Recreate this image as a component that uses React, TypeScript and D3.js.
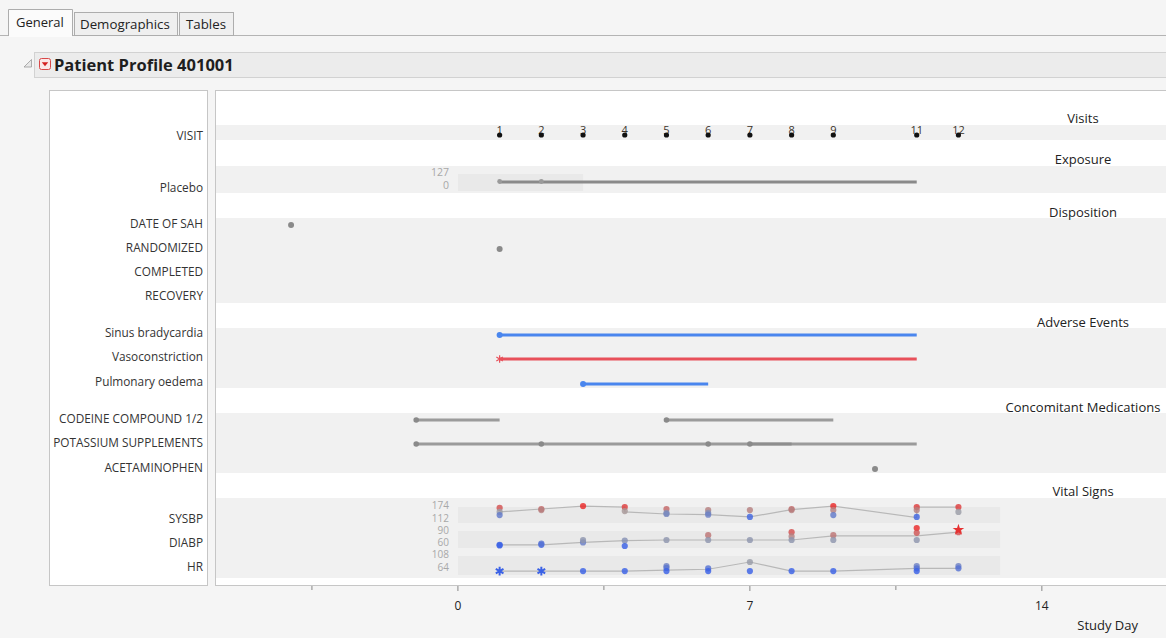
import React from 'react';
import * as d3 from 'd3';

const W = 1166;
const H = 638;

// ---- Visits ----
const visitDays = [1, 2, 3, 4, 5, 6, 7, 8, 9, 11, 12];
const visitNumbers = ['1', '2', '3', '4', '5', '6', '7', '8', '9', '11', '12'];

// ---- Exposure ----
const exposureTreatment = 'Placebo';
const exposureStartDay = 1;
const exposureEndDay = 11;
const exposureDoseDays = [1, 2];
const exposureRangeLabels = ['127', '0'];
const exposurePanelDays = [0, 3];

// ---- Disposition ----
const dispositionEvents = ['DATE OF SAH', 'RANDOMIZED', 'COMPLETED', 'RECOVERY'];
const dispositionDays: (number | null)[] = [-4, 1, null, null];

// ---- Adverse events ----
const aeTerms = ['Sinus bradycardia', 'Vasoconstriction', 'Pulmonary oedema'];
const aeStartDays = [1, 1, 3];
const aeEndDays = [11, 11, 6];
const aeSeverity = ['MILD', 'SEVERE', 'MILD'];

// ---- Concomitant medications ----
const cmNames = ['CODEINE COMPOUND 1/2', 'POTASSIUM SUPPLEMENTS', 'ACETAMINOPHEN'];
const cmIntervals: [number, number][][] = [
  [[-1, 1], [5, 9]],
  [[-1, 2], [2, 6], [6, 11], [7, 8]],
  [[10, 10]],
];

// ---- Vital signs ----
const vitalNames = ['SYSBP', 'DIABP', 'HR'];
const vitalRangeLabels = [['174', '112'], ['90', '60'], ['108', '64']];
const vitalDomains: [number, number][] = [[112, 174], [60, 90], [64, 108]];
const vitalColorStops: [number, number, number][] = [[115, 143, 168], [61, 72, 88], [66, 88, 108]];
const vitalPanelDays = [0, 13];
const vitalDays = [1, 2, 3, 4, 5, 6, 7, 8, 9, 11, 12];

const sysbpTrendDays = [1, 2, 3, 4, 4, 5, 6, 7, 8, 9, 11, 11, 12];
const sysbpTrend = [141, 155, 169, 164, 141, 131, 128, 117, 152, 169, 114, 164, 164];
const sysbpReadings = [
  [160, 141, 126], [155, 150], [169], [164, 145], [155, 136, 131], [150, 136, 128],
  [150, 117], [155, 150], [169, 150, 126], [164, 150, 117], [164, 141],
];

const diabpTrendDays = [1, 2, 3, 4, 5, 6, 7, 8, 9, 11, 12];
const diabpTrend = [62, 62, 66, 69, 70, 70, 70, 70, 77, 77, 83];
const diabpReadings = [
  [62, 61], [62, 64], [66, 70], [69, 60], [70], [78, 70],
  [70], [83, 76, 70], [78, 70], [90, 82, 70], [83],
];
const diabpFlagDays = [12];
const diabpFlagValues = [87];

const hrTrendDays = [1, 2, 3, 4, 5, 6, 7, 8, 9, 11, 12];
const hrTrend = [66, 66, 66, 66, 68, 70, 86, 66, 66, 72, 72];
const hrReadings = [
  [], [], [66], [66], [77, 73, 66], [72, 66],
  [86, 66], [66], [66], [77, 72, 66], [77, 72],
];
const hrFlagDays = [1, 2];
const hrFlagValues = [66, 66];

const vitalTrendDays = [sysbpTrendDays, diabpTrendDays, hrTrendDays];
const vitalTrends = [sysbpTrend, diabpTrend, hrTrend];
const vitalReadings = [sysbpReadings, diabpReadings, hrReadings];
const vitalFlagDays = [[], diabpFlagDays, hrFlagDays];
const vitalFlagValues = [[], diabpFlagValues, hrFlagValues];

// ---- Axis ----
const majorTicks = [0, 7, 14];
const minorTicks = [-3.5, 3.5, 10.5];

const FONT = "'Open Sans', 'Noto Sans', sans-serif";
const BAND = '#f1f1f1';
const INNER = '#e9e9e9';
const GREY_MARK = '#8a8a8a';
const AE_COLORS: Record<string, string> = { MILD: '#4a86ee', SEVERE: '#e8505a' };

// layout of the plot panel
const PLOT_LEFT = 216;
const PLOT_TOP = 90;
const PLOT_BOTTOM = 585;
const HEADER_X = 1083;

const sections = [
  { title: 'Visits', titleY: 118, band: [125, 140] },
  { title: 'Exposure', titleY: 159, band: [166, 193] },
  { title: 'Disposition', titleY: 212, band: [218, 303] },
  { title: 'Adverse Events', titleY: 322, band: [328, 388] },
  { title: 'Concomitant Medications', titleY: 407, band: [413, 473] },
  { title: 'Vital Signs', titleY: 491, band: [498, 578] },
];

const visitY = 135;
const exposureLabelY = 187;
const exposureLineY = 182;
const exposurePanel = [174, 191];
const exposureRangeY = [172, 185];
const dispositionY = [225, 249, 273, 297];
const aeY = [335, 359, 384];
const cmY = [420, 444, 469];
const vitalLabelY = [518, 542, 566];
const vitalRangeY = [[504.5, 517.5], [529.5, 542], [554, 566.5]];
const vitalPanel = [[507, 523], [531, 548], [556, 575]];
const vitalPixelRange: [number, number][] = [[518, 505], [546, 528], [572, 552]];

function Label({ x, y, text, anchor = 'end', size = 11.8, color = '#333', weight = 400 }: any) {
  return (
    <text x={x} y={y} textAnchor={anchor} dominantBaseline="central" fontSize={size} fill={color} fontWeight={weight}>
      {text}
    </text>
  );
}

export default function App() {
  const x = d3.scaleLinear().domain([-5.8, 17]).range([PLOT_LEFT, PLOT_LEFT + 22.8 * 41.71]);

  const star = d3.symbol().type(d3.symbolStar).size(42)() as string;
  const asterisk = d3.symbol().type(d3.symbolAsterisk).size(40)() as string;
  const bigAsterisk = d3.symbol().type(d3.symbolAsterisk).size(55)() as string;

  const labelRight = 203;

  return (
    <div style={{ position: 'absolute', left: 0, top: 0, width: W, height: H }}>
      <svg width={W} height={H} style={{ display: 'block' }} fontFamily={FONT}>
        <rect x={0} y={0} width={W} height={H} fill="#f5f5f5" />

        {/* tabs */}
        <line x1={0} x2={W} y1={35.5} y2={35.5} stroke="#b4b4b4" />
        <rect x={74.5} y={12.5} width={103} height={23} fill="#efefef" stroke="#adadad" />
        <rect x={179.5} y={12.5} width={54} height={23} fill="#efefef" stroke="#adadad" />
        <path d="M8.5,36 V9.5 H72.5 V36" fill="#fbfbfb" stroke="#adadad" />
        <rect x={9} y={34} width={63} height={3} fill="#fbfbfb" />
        <Label x={16} y={22} text="General" anchor="start" size={13} color="#222" />
        <Label x={80} y={23.5} text="Demographics" anchor="start" size={13.3} color="#222" />
        <Label x={186} y={23.5} text="Tables" anchor="start" size={13.3} color="#222" />

        {/* outline header */}
        <rect x={34.5} y={52.5} width={1140} height={25} fill="#ececec" stroke="#d2d2d2" />
        <path d="M24,67 L31.5,67 L31.5,59.5 Z" fill="#e8e8e8" stroke="#9a9a9a" strokeWidth={0.8} />
        <rect x={39.5} y={58.5} width={11} height={11} rx={2} fill="#fbe9e9" stroke="#d84848" />
        <path d="M41.8,62.3 L48.2,62.3 L45,66.2 Z" fill="#d42020" />
        <Label x={54} y={64.5} text="Patient Profile 401001" anchor="start" size={16.5} color="#1e1e1e" weight={700} />

        {/* label panel */}
        <rect x={49.5} y={PLOT_TOP + 0.5} width={158} height={PLOT_BOTTOM - PLOT_TOP} fill="#fff" stroke="#c6c6c6" />

        {/* plot panel */}
        <rect x={PLOT_LEFT - 0.5} y={PLOT_TOP + 0.5} width={W} height={PLOT_BOTTOM - PLOT_TOP} fill="#fff" stroke="#c6c6c6" />

        {sections.map((s) => (
          <g key={s.title}>
            <rect x={PLOT_LEFT} y={s.band[0]} width={W - PLOT_LEFT} height={s.band[1] - s.band[0]} fill={BAND} />
            <Label x={HEADER_X} y={s.titleY} text={s.title} anchor="middle" size={13} color="#222" />
          </g>
        ))}

        {/* visits */}
        <Label x={labelRight} y={visitY} text="VISIT" />
        {visitDays.map((d, i) => (
          <g key={'v' + i}>
            <Label x={x(d)} y={visitY - 6} text={visitNumbers[i]} anchor="middle" size={11} color="#3b342c" />
            <circle cx={x(d)} cy={visitY} r={2.6} fill="#111" />
          </g>
        ))}

        {/* exposure */}
        <Label x={labelRight} y={exposureLabelY} text={exposureTreatment} />
        <rect
          x={x(exposurePanelDays[0])}
          y={exposurePanel[0]}
          width={x(exposurePanelDays[1]) - x(exposurePanelDays[0])}
          height={exposurePanel[1] - exposurePanel[0]}
          fill={INNER}
        />
        {exposureRangeLabels.map((t, i) => (
          <Label key={t} x={449} y={exposureRangeY[i]} text={t} color="#a8a8a8" size={10.5} />
        ))}
        <line x1={x(exposureStartDay)} x2={x(exposureEndDay)} y1={exposureLineY} y2={exposureLineY} stroke={GREY_MARK} strokeWidth={3} />
        {exposureDoseDays.map((d) => (
          <circle key={'e' + d} cx={x(d)} cy={exposureLineY - 0.5} r={2.4} fill="#9a9a9a" />
        ))}

        {/* disposition */}
        {dispositionEvents.map((ev, i) => (
          <g key={ev}>
            <Label x={labelRight} y={dispositionY[i] - 2} text={ev} />
            {dispositionDays[i] !== null && (
              <circle cx={x(dispositionDays[i] as number)} cy={dispositionY[i]} r={3} fill={GREY_MARK} />
            )}
          </g>
        ))}

        {/* adverse events */}
        {aeTerms.map((t, i) => {
          const c = AE_COLORS[aeSeverity[i]];
          return (
            <g key={t}>
              <Label x={labelRight} y={aeY[i] - 3} text={t} />
              <line x1={x(aeStartDays[i])} x2={x(aeEndDays[i])} y1={aeY[i]} y2={aeY[i]} stroke={c} strokeWidth={3} />
              {aeSeverity[i] === 'SEVERE' ? (
                <path d={asterisk} transform={`translate(${x(aeStartDays[i])},${aeY[i]})`} stroke={c} strokeWidth={1.2} fill="none" />
              ) : (
                <circle cx={x(aeStartDays[i])} cy={aeY[i]} r={3} fill={c} />
              )}
            </g>
          );
        })}

        {/* concomitant medications */}
        {cmNames.map((n, i) => (
          <g key={n}>
            <Label x={labelRight} y={cmY[i] - 2} text={n} />
            {cmIntervals[i].map(([a, b], j) =>
              a === b ? (
                <circle key={j} cx={x(a)} cy={cmY[i]} r={3} fill={GREY_MARK} />
              ) : (
                <g key={j}>
                  <line x1={x(a)} x2={x(b)} y1={cmY[i]} y2={cmY[i]} stroke="#8c8c8c" strokeOpacity={0.85} strokeWidth={3} />
                  <circle cx={x(a)} cy={cmY[i]} r={2.8} fill={GREY_MARK} />
                </g>
              )
            )}
          </g>
        ))}

        {/* vital signs */}
        {vitalNames.map((name, k) => {
          const y = d3.scaleLinear().domain(vitalDomains[k]).range(vitalPixelRange[k]);
          const color = d3
            .scaleLinear<string>()
            .domain(vitalColorStops[k])
            .range(['#3b62e6', '#a2a2a2', '#ea2a2a'])
            .clamp(true);
          const trendPts = vitalTrendDays[k].map((d, i) => [x(d), y(vitalTrends[k][i])] as [number, number]);
          const line = d3.line()(trendPts) as string;
          return (
            <g key={name}>
              <Label x={labelRight} y={vitalLabelY[k]} text={name} />
              <rect
                x={x(vitalPanelDays[0])}
                y={vitalPanel[k][0]}
                width={x(vitalPanelDays[1]) - x(vitalPanelDays[0])}
                height={vitalPanel[k][1] - vitalPanel[k][0]}
                fill={INNER}
              />
              {vitalRangeLabels[k].map((t, i) => (
                <Label key={t} x={449} y={vitalRangeY[k][i]} text={t} color="#a8a8a8" size={10} />
              ))}
              <path d={line} fill="none" stroke="#b8b8b8" strokeWidth={1.2} />
              {vitalReadings[k].map((vals, i) =>
                vals.map((v, j) => (
                  <circle key={`${i}-${j}`} cx={x(vitalDays[i])} cy={y(v)} r={3.1} fill={color(v)} fillOpacity={0.82} />
                ))
              )}
              {vitalFlagDays[k].map((d, i) =>
                k === 2 ? (
                  <path
                    key={'f' + i}
                    d={bigAsterisk}
                    transform={`translate(${x(d)},${y(vitalFlagValues[k][i])})`}
                    stroke={color(vitalFlagValues[k][i])}
                    strokeWidth={2}
                    fill="none"
                  />
                ) : (
                  <path key={'f' + i} d={star} transform={`translate(${x(d)},${y(vitalFlagValues[k][i])})`} fill={color(vitalFlagValues[k][i])} />
                )
              )}
            </g>
          );
        })}

        {/* x axis */}
        {minorTicks.map((t) => (
          <line key={'m' + t} x1={x(t)} x2={x(t)} y1={PLOT_BOTTOM + 1} y2={PLOT_BOTTOM + 5} stroke="#888" />
        ))}
        {majorTicks.map((t) => (
          <g key={'M' + t}>
            <line x1={x(t)} x2={x(t)} y1={PLOT_BOTTOM + 1} y2={PLOT_BOTTOM + 6} stroke="#888" />
            <Label x={x(t)} y={605} text={String(t)} anchor="middle" size={12} color="#222" />
          </g>
        ))}
        <Label x={1138} y={625} text="Study Day" anchor="end" size={13} color="#222" />
      </svg>
    </div>
  );
}
